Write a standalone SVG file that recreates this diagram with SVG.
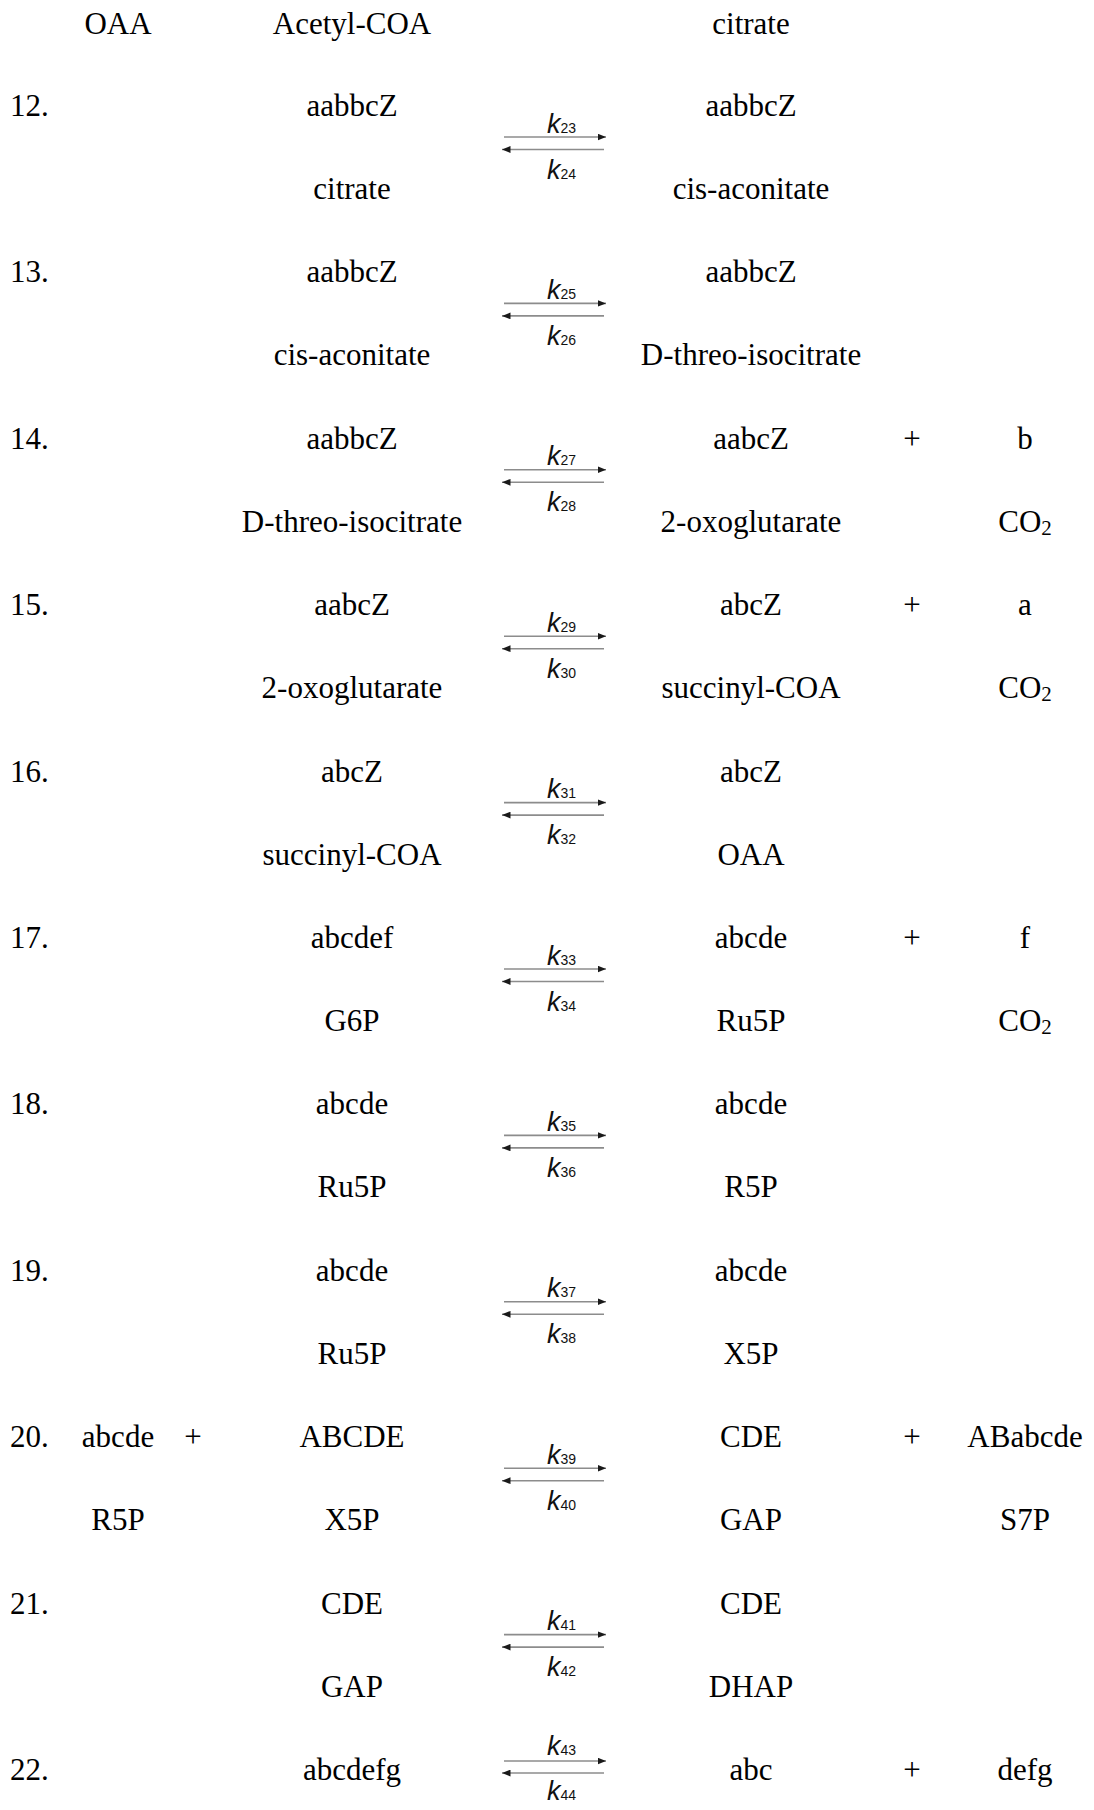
<svg xmlns="http://www.w3.org/2000/svg" width="1094" height="1810" viewBox="0 0 1094 1810">
<style>
text{font-family:"Liberation Serif","Times New Roman",serif;font-size:31px;fill:#000}
.m{text-anchor:middle}
.n{text-anchor:start}
.k{font-family:"Liberation Sans",Arial,sans-serif;font-size:27px;font-style:italic;fill:#111}
.ks{font-style:normal;font-size:14px}
.s{font-size:21px}
.f{stroke:#8c8c8c;stroke-width:1.6;fill:none;marker-end:url(#ah)}
</style>
<defs>
<marker id="ah" viewBox="0 0 10 8" refX="10" refY="4" markerWidth="8.5" markerHeight="7" markerUnits="userSpaceOnUse" orient="auto">
<path d="M0,0 L10,4 L0,8 Z" fill="#1a1a1a"/>
</marker>
</defs>
<rect width="1094" height="1810" fill="#fff"/>

<g id="r11">
<g id="r11-oaa"><text class="m" x="118" y="34">OAA</text></g>
<g id="r11-acetylcoa"><text class="m" x="352" y="34">Acetyl-COA</text></g>
<g id="r11-citrate"><text class="m" x="751" y="34">citrate</text></g>
</g>

<g id="r12">
<text class="n" x="10" y="116">12.</text>
<g id="r12-a"><text class="m" x="352" y="116">aabbcZ</text><text class="m" x="352" y="199">citrate</text></g>
<g id="r12-b"><text class="m" x="751" y="116">aabbcZ</text><text class="m" x="751" y="199">cis-aconitate</text></g>
</g>

<g id="r13">
<text class="n" x="10" y="282.4">13.</text>
<g id="r13-a"><text class="m" x="352" y="282.4">aabbcZ</text><text class="m" x="352" y="365.4">cis-aconitate</text></g>
<g id="r13-b"><text class="m" x="751" y="282.4">aabbcZ</text><text class="m" x="751" y="365.4">D-threo-isocitrate</text></g>
</g>

<g id="r14">
<text class="n" x="10" y="448.8">14.</text>
<g id="r14-a"><text class="m" x="352" y="448.8">aabbcZ</text><text class="m" x="352" y="531.8">D-threo-isocitrate</text></g>
<g id="r14-b"><text class="m" x="751" y="448.8">aabcZ</text><text class="m" x="751" y="531.8">2-oxoglutarate</text></g>
<text class="m" x="912" y="448.8">+</text>
<g id="r14-c"><text class="m" x="1025" y="448.8">b</text><text class="m" x="1025" y="531.8">CO<tspan class="s" dy="3">2</tspan></text></g>
</g>

<g id="r15">
<text class="n" x="10" y="615.2">15.</text>
<g id="r15-a"><text class="m" x="352" y="615.2">aabcZ</text><text class="m" x="352" y="698.2">2-oxoglutarate</text></g>
<g id="r15-b"><text class="m" x="751" y="615.2">abcZ</text><text class="m" x="751" y="698.2">succinyl-COA</text></g>
<text class="m" x="912" y="615.2">+</text>
<g id="r15-c"><text class="m" x="1025" y="615.2">a</text><text class="m" x="1025" y="698.2">CO<tspan class="s" dy="3">2</tspan></text></g>
</g>

<g id="r16">
<text class="n" x="10" y="781.6">16.</text>
<g id="r16-a"><text class="m" x="352" y="781.6">abcZ</text><text class="m" x="352" y="864.6">succinyl-COA</text></g>
<g id="r16-b"><text class="m" x="751" y="781.6">abcZ</text><text class="m" x="751" y="864.6">OAA</text></g>
</g>

<g id="r17">
<text class="n" x="10" y="948">17.</text>
<g id="r17-a"><text class="m" x="352" y="948">abcdef</text><text class="m" x="352" y="1031">G6P</text></g>
<g id="r17-b"><text class="m" x="751" y="948">abcde</text><text class="m" x="751" y="1031">Ru5P</text></g>
<text class="m" x="912" y="948">+</text>
<g id="r17-c"><text class="m" x="1025" y="948">f</text><text class="m" x="1025" y="1031">CO<tspan class="s" dy="3">2</tspan></text></g>
</g>

<g id="r18">
<text class="n" x="10" y="1114.4">18.</text>
<g id="r18-a"><text class="m" x="352" y="1114.4">abcde</text><text class="m" x="352" y="1197.4">Ru5P</text></g>
<g id="r18-b"><text class="m" x="751" y="1114.4">abcde</text><text class="m" x="751" y="1197.4">R5P</text></g>
</g>

<g id="r19">
<text class="n" x="10" y="1280.8">19.</text>
<g id="r19-a"><text class="m" x="352" y="1280.8">abcde</text><text class="m" x="352" y="1363.8">Ru5P</text></g>
<g id="r19-b"><text class="m" x="751" y="1280.8">abcde</text><text class="m" x="751" y="1363.8">X5P</text></g>
</g>

<g id="r20">
<text class="n" x="10" y="1447.2">20.</text>
<g id="r20-a"><text class="m" x="118" y="1447.2">abcde</text><text class="m" x="118" y="1530.2">R5P</text></g>
<text class="m" x="193" y="1447.2">+</text>
<g id="r20-b"><text class="m" x="352" y="1447.2">ABCDE</text><text class="m" x="352" y="1530.2">X5P</text></g>
<g id="r20-c"><text class="m" x="751" y="1447.2">CDE</text><text class="m" x="751" y="1530.2">GAP</text></g>
<text class="m" x="912" y="1447.2">+</text>
<g id="r20-d"><text class="m" x="1025" y="1447.2">ABabcde</text><text class="m" x="1025" y="1530.2">S7P</text></g>
</g>

<g id="r21">
<text class="n" x="10" y="1613.6">21.</text>
<g id="r21-a"><text class="m" x="352" y="1613.6">CDE</text><text class="m" x="352" y="1696.6">GAP</text></g>
<g id="r21-b"><text class="m" x="751" y="1613.6">CDE</text><text class="m" x="751" y="1696.6">DHAP</text></g>
</g>

<g id="r22">
<text class="n" x="10" y="1780">22.</text>
<g id="r22-a"><text class="m" x="352" y="1780">abcdefg</text></g>
<g id="r22-b"><text class="m" x="751" y="1780">abc</text></g>
<text class="m" x="912" y="1780">+</text>
<g id="r22-c"><text class="m" x="1025" y="1780">defg</text></g>
</g>

<g id="connectors">
<g id="a12"><path class="f" d="M504,137H606"/><path class="f" d="M604,149.5H502"/><text class="k" x="547" y="132.5">k<tspan class="ks">23</tspan></text><text class="k" x="547" y="178.5">k<tspan class="ks">24</tspan></text></g>
<g id="a13"><path class="f" d="M504,303.4H606"/><path class="f" d="M604,315.9H502"/><text class="k" x="547" y="298.9">k<tspan class="ks">25</tspan></text><text class="k" x="547" y="344.9">k<tspan class="ks">26</tspan></text></g>
<g id="a14"><path class="f" d="M504,469.8H606"/><path class="f" d="M604,482.3H502"/><text class="k" x="547" y="465.3">k<tspan class="ks">27</tspan></text><text class="k" x="547" y="511.3">k<tspan class="ks">28</tspan></text></g>
<g id="a15"><path class="f" d="M504,636.2H606"/><path class="f" d="M604,648.7H502"/><text class="k" x="547" y="631.7">k<tspan class="ks">29</tspan></text><text class="k" x="547" y="677.7">k<tspan class="ks">30</tspan></text></g>
<g id="a16"><path class="f" d="M504,802.6H606"/><path class="f" d="M604,815.1H502"/><text class="k" x="547" y="798.1">k<tspan class="ks">31</tspan></text><text class="k" x="547" y="844.1">k<tspan class="ks">32</tspan></text></g>
<g id="a17"><path class="f" d="M504,969H606"/><path class="f" d="M604,981.5H502"/><text class="k" x="547" y="964.5">k<tspan class="ks">33</tspan></text><text class="k" x="547" y="1010.5">k<tspan class="ks">34</tspan></text></g>
<g id="a18"><path class="f" d="M504,1135.4H606"/><path class="f" d="M604,1147.9H502"/><text class="k" x="547" y="1130.9">k<tspan class="ks">35</tspan></text><text class="k" x="547" y="1176.9">k<tspan class="ks">36</tspan></text></g>
<g id="a19"><path class="f" d="M504,1301.8H606"/><path class="f" d="M604,1314.3H502"/><text class="k" x="547" y="1297.3">k<tspan class="ks">37</tspan></text><text class="k" x="547" y="1343.3">k<tspan class="ks">38</tspan></text></g>
<g id="a20"><path class="f" d="M504,1468.2H606"/><path class="f" d="M604,1480.7H502"/><text class="k" x="547" y="1463.7">k<tspan class="ks">39</tspan></text><text class="k" x="547" y="1509.7">k<tspan class="ks">40</tspan></text></g>
<g id="a21"><path class="f" d="M504,1634.6H606"/><path class="f" d="M604,1647.1H502"/><text class="k" x="547" y="1630.1">k<tspan class="ks">41</tspan></text><text class="k" x="547" y="1676.1">k<tspan class="ks">42</tspan></text></g>
<g id="a22"><path class="f" d="M504,1761H606"/><path class="f" d="M604,1773H502"/><text class="k" x="547" y="1755">k<tspan class="ks">43</tspan></text><text class="k" x="547" y="1800">k<tspan class="ks">44</tspan></text></g>
</g>
</svg>
